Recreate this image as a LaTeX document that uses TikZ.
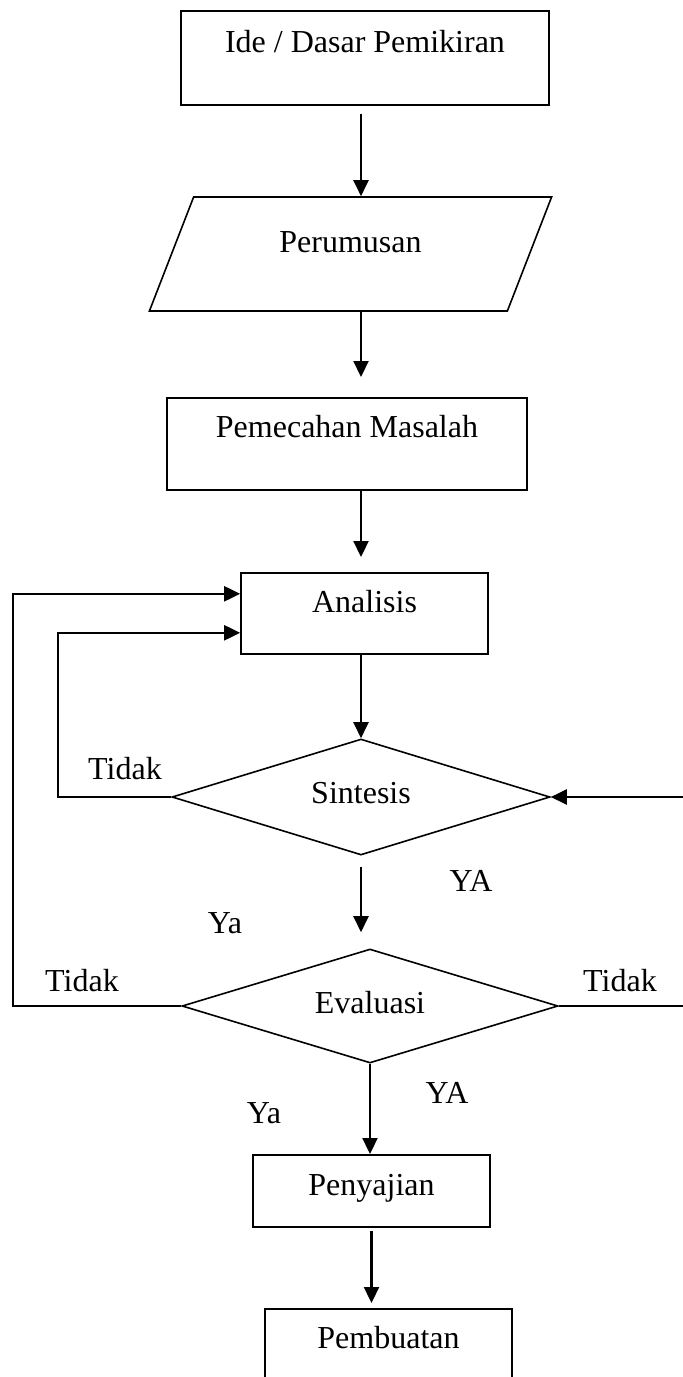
\documentclass[tikz,border=0pt]{standalone}
\usepackage{fontspec}
\setmainfont{Liberation Serif}
\usetikzlibrary{shapes.geometric,arrows.meta}
\tikzset{
  kotak/.style={draw, rectangle, line width=0.8pt, inner sep=0pt, anchor=north},
  belah/.style={draw, diamond, aspect=3, line width=0.8pt, inner sep=0pt, text depth=4pt},
  jajar/.style={draw, trapezium, trapezium left angle=65.5, trapezium right angle=114.5,
    trapezium stretches=true, line width=0.8pt, inner sep=0pt},
  panah/.style={line width=1.1pt, -{Triangle[length=8pt,width=7.5pt]}},
  ket/.style={inner sep=0pt}
}
\begin{document}
\begin{tikzpicture}[x=0.5pt, y=-0.5pt, font=\fontsize{16}{19}\selectfont]
  \useasboundingbox (0,0) rectangle (683,1377);
  \clip (0,0) rectangle (683,1377);

  % langkah-langkah
  \node[kotak, minimum width=184pt, text height=21pt, text depth=26pt] (ide) at (365,10) {Ide / Dasar Pemikiran};
  \node[jajar, minimum width=202.5pt, minimum height=57pt, text height=10pt, text depth=12pt] (rumus) at (350.5,254) {Perumusan};
  \node[kotak, minimum width=180pt, text height=20pt, text depth=26pt] (pecah) at (347,397) {Pemecahan Masalah};
  \node[kotak, minimum width=123.5pt, text height=20pt, text depth=20.5pt] (analisis) at (364.5,572) {Analisis};
  \node[belah, minimum width=189pt, minimum height=58pt] (sintesis) at (361,797) {Sintesis};
  \node[belah, minimum width=188pt, minimum height=57pt] (evaluasi) at (370,1006) {Evaluasi};
  \node[kotak, minimum width=118.5pt, text height=20.5pt, text depth=15.5pt] (saji) at (371.5,1154) {Penyajian};
  \node[kotak, minimum width=123.5pt, text height=20pt, text depth=26pt] (buat) at (388.5,1308) {Pembuatan};

  % keterangan
  \node[ket] (tidakA) at (125,769) {Tidak};
  \node[ket] (yaA) at (471,881) {YA};
  \node[ket] (yaB) at (225,923) {Ya};
  \node[ket] (tidakB) at (82,981) {Tidak};
  \node[ket] (tidakC) at (620,981) {Tidak};
  \node[ket] (yaC) at (447,1093) {YA};
  \node[ket] (yaD) at (264,1113) {Ya};

  % alur utama
  \draw[panah] ([yshift=-4pt]ide.south -| sintesis.north) -- (rumus.north -| sintesis.north);
  \draw[panah] (rumus.south -| sintesis.north) -- ([yshift=10pt]pecah.north -| sintesis.north);
  \draw[panah] (pecah.south -| sintesis.north) -- ([yshift=7.5pt]analisis.north -| sintesis.north);
  \draw[panah] (analisis.south -| sintesis.north) -- (sintesis.north);
  \draw[panah] ([yshift=-5.5pt]sintesis.south) -- ([yshift=8pt]evaluasi.north -| sintesis.south);
  \draw[panah] (evaluasi.south) -- (evaluasi.south |- saji.north);
  \draw[panah] ([yshift=-1.5pt]saji.south) -- ([yshift=2.5pt]buat.north -| saji.south);

  % balikan
  \draw[panah] (sintesis.west) -- ++(-56.5pt,0) |- ([yshift=-9.75pt]analisis.west);
  \draw[panah] (evaluasi.west) -- ++(-84pt,0) |- ([yshift=9.75pt]analisis.west);
  \draw[panah] (evaluasi.east) -- ++(80pt,0) |- (sintesis.east);
\end{tikzpicture}
\end{document}
